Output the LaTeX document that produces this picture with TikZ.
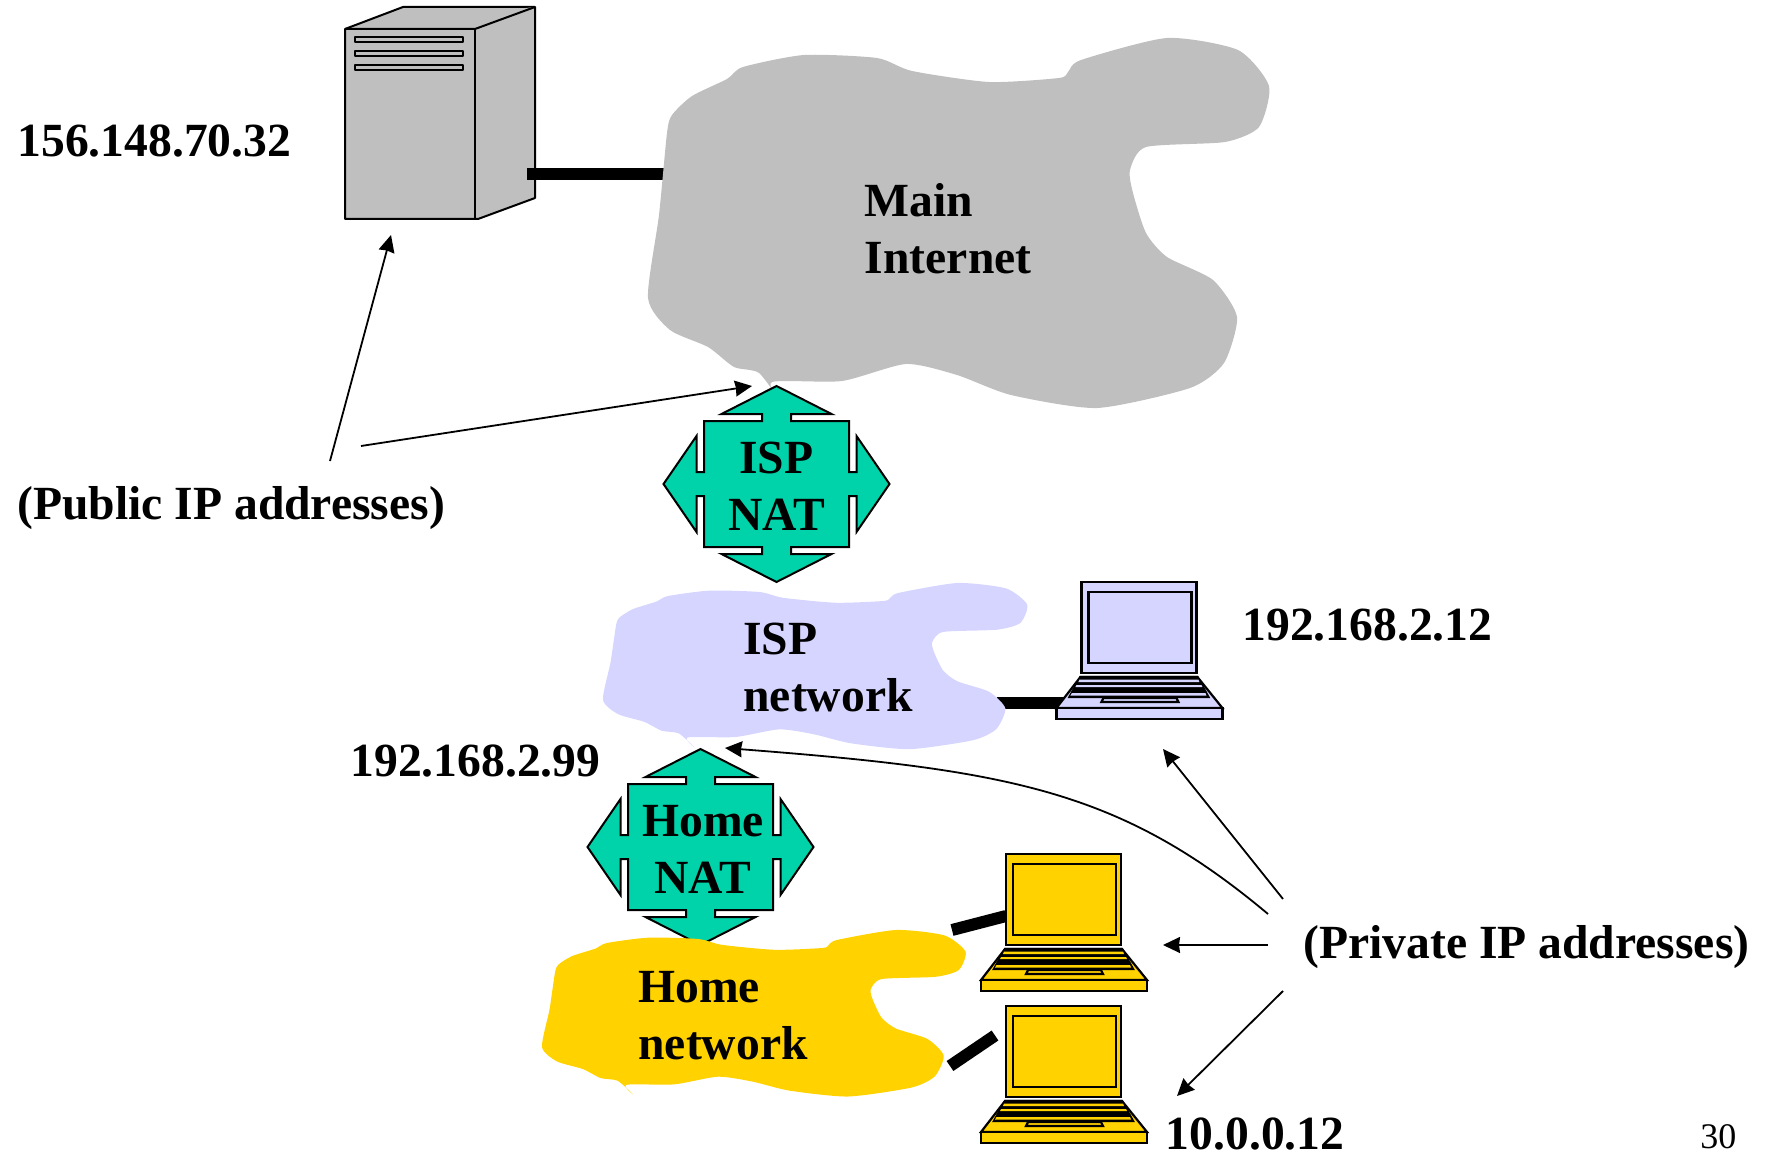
\documentclass[tikz,border=0pt]{standalone}
\usepackage{fontspec}
\setmainfont{Liberation Serif}
\definecolor{netgray}{HTML}{BFBFBF}
\definecolor{natgreen}{HTML}{00D3A9}
\definecolor{isplilac}{HTML}{D5D5FF}
\definecolor{homeyellow}{HTML}{FFD200}
\usetikzlibrary{arrows.meta}

\newcommand{\netcloud}[1]{%
  \fill[#1] plot[smooth, tension=0.4] coordinates {
    (782,404) (772,382) (842,381) (906,364) (957,375) (1011,395) (1097,408)
    (1190,388) (1224,363) (1237,317) (1213,280) (1167,257) (1146,233) (1133,193)
    (1130,170) (1146,147) (1225,142) (1259,127) (1269,86) (1238,50) (1167,38)
    (1081,60) (1068,72) (1059,78) (989,82) (912,71) (877,58) (804,55) (743,67)
    (727,79) (692,96) (672,115) (667,133) (659,215) (648,298) (670,330) (708,347)
    (734,367) (759,373) (782,404)} -- cycle;}
\newcommand{\natshape}[2]{%
  \draw[natbox, shift={(#1,#2)}] (0,-98) -- (55,-70) -- (14.5,-70) -- (14.5,-63)
    -- (72.5,-63) -- (72.5,-12) -- (80,-12) -- (80,-48) -- (113,0) -- (80,48) -- (80,12)
    -- (72.5,12) -- (72.5,63) -- (14.5,63) -- (14.5,70) -- (55,70) -- (0,98) -- (-55,70)
    -- (-14.5,70) -- (-14.5,63) -- (-72.5,63) -- (-72.5,12) -- (-80,12) -- (-80,48)
    -- (-113,0) -- (-80,-48) -- (-80,-12) -- (-72.5,-12) -- (-72.5,-63) -- (-14.5,-63)
    -- (-14.5,-70) -- (-55,-70) -- cycle;}
\newcommand{\laptop}[3]{%
  \begin{scope}[shift={(#1,#2)}, every path/.append style={draw=black, fill=#3, line width=1.1pt}]
    \path (0,0) rectangle (115,91);
    \path (7,10) rectangle (110,81);
    \path (-1,95) -- (116,95) -- (141,126) -- (-25,126) -- cycle;
    \path[fill=black] (-1,95) -- (116,95) -- (127,115) -- (-12,115) -- cycle;
    \path[draw=none] (-2,97.5) -- (117,97.5) -- (118,100) -- (-3,100) -- cycle;
    \path[draw=none] (-5,103) -- (120,103) -- (121,105) -- (-6,105) -- cycle;
    \path[draw=none] (-9.5,111) -- (124,111) -- (125,113.5) -- (-11,113.5) -- cycle;
    \path (22,116) -- (95,116) -- (97,120) -- (20,120) -- cycle;
    \path (-25,126) rectangle (141,137);
  \end{scope}}

\begin{document}
\begin{tikzpicture}[
  x=0.5pt, y=-0.5pt,
  lbl/.style={font=\fontsize{23.8}{28.5}\selectfont\bfseries, inner sep=0pt, anchor=base west, align=left},
  natbox/.style={draw=black, fill=natgreen, line width=1pt, line join=miter},
  unit/.style={draw=black, fill=netgray, line width=1pt, line join=round},
  wire/.style={line width=6pt, black},
  pointer/.style={-{Stealth[length=8.5pt, width=8pt, inset=0.5pt]}, line width=0.9pt}
]
  \useasboundingbox (0,0) rectangle (1765,1160);

  % Links
  \coordinate (srvport) at (527,174);
  \coordinate (inetport) at (668,174);
  \coordinate (ispport) at (997,703);
  \coordinate (lapport) at (1064,703);
  \coordinate (homeport1) at (952,930);
  \coordinate (pc1port) at (1006,916);
  \coordinate (homeport2) at (950,1066);
  \coordinate (pc2port) at (995,1035.5);
  \draw[wire] (ispport) -- (lapport);
  \draw[wire] (homeport1) -- (pc1port);
  \draw[wire] (homeport2) -- (pc2port);

  % Server
  \draw[unit] (345,29) -- (403,7) -- (535,7) -- (535,198) -- (478,219) -- (345,219) -- cycle;
  \draw[unit] (345,29) -- (475,29) -- (535,7);
  \draw[unit] (475,29) -- (475,219);
  \foreach \slot in {37,51,65}
    \draw[unit] (355,\slot) rectangle (463,\slot+5);
  \draw[wire] (srvport) -- (inetport);

  % Clouds and NAT boxes
  \begin{scope}
    \netcloud{netgray}
  \end{scope}
  \natshape{776.5}{484}
  \begin{scope}[shift={(603,583)}, xscale=0.683, yscale=0.449, shift={(-648,-38)}]
    \netcloud{isplilac}
  \end{scope}
  \natshape{700.5}{847}
  \begin{scope}[shift={(542,930)}, xscale=0.682, yscale=0.45, shift={(-648,-38)}]
    \netcloud{homeyellow}
  \end{scope}

  % Hosts
  \laptop{1081.4}{582}{isplilac}
  \laptop{1006}{854}{homeyellow}
  \laptop{1006}{1006}{homeyellow}

  % Labels
  \node[lbl] (srvaddr) at (17,157) {156.148.70.32};
  \node[lbl] (public) at (17,519) {(Public IP addresses)};
  \node[lbl] (inet) at (864.5,274) {Main\\Internet};
  \node[lbl, align=center, anchor=base] (ispnat) at (776.5,530) {ISP\\NAT};
  \node[lbl] (ispnet) at (743,711) {ISP\\network};
  \node[lbl] (ispaddr) at (1242,640) {192.168.2.12};
  \node[lbl] (nataddr) at (350,776) {192.168.2.99};
  \node[lbl, align=center, anchor=base] (homenat) at (703,893) {Home\\NAT};
  \node[lbl] (homenet) at (638,1059) {Home\\network};
  \node[lbl] (private) at (1303,958) {(Private IP addresses)};
  \node[lbl] (pcaddr) at (1165.5,1149) {10.0.0.12};
  \node[font=\fontsize{18}{20}\selectfont, inner sep=0pt, anchor=base west] (pagenum) at (1700,1148) {30};

  % Pointers
  \coordinate (pubA) at (330,461);
  \coordinate (pubB) at (361,446);
  \coordinate (srvtip) at (391,235);
  \coordinate (isptip) at (752,386);
  \draw[pointer] (pubA) -- (srvtip);
  \draw[pointer] (pubB) -- (isptip);
  \coordinate (privA) at (1283,899);
  \coordinate (privB) at (1268,914);
  \coordinate (privC) at (1268,945);
  \coordinate (privD) at (1283,991);
  \coordinate (laptip) at (1163,749);
  \coordinate (hometip) at (725,748);
  \coordinate (pc1tip) at (1163,945);
  \coordinate (pc2tip) at (1177,1096);
  \draw[pointer] (privA) -- (laptip);
  \draw[pointer] (privB) .. controls (1120,790) and (1010,770) .. (hometip);
  \draw[pointer] (privC) -- (pc1tip);
  \draw[pointer] (privD) -- (pc2tip);
\end{tikzpicture}
\end{document}
